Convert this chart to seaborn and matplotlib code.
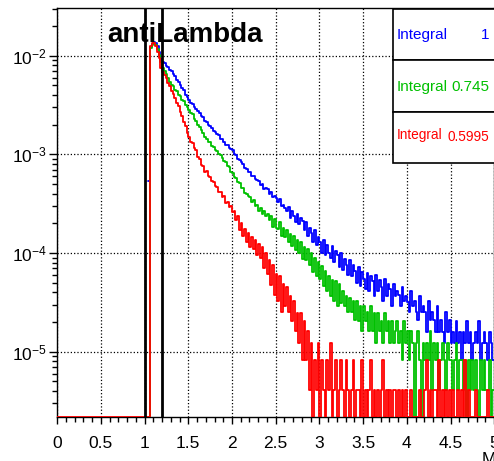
import matplotlib
matplotlib.use("Agg")
import matplotlib.pyplot as plt
import matplotlib.ticker as mticker
from matplotlib.patches import Rectangle
import numpy as np
import pandas as pd
import seaborn as sns

# histogram bins: width 0.02 starting at M = 1.04 (everything below is empty)
BIN_START = 1.04
BIN_WIDTH = 0.02

# bin contents in units of 1e-6
blue = [
    540, 12400, 13300, 13800, 13500, 12600, 11000, 9300, 8600, 8400,
    7900, 7700, 7200, 7000, 6500, 6300, 5700, 5400, 5000, 4700,
    4450, 4000, 3800, 3550, 3350, 3250, 3000, 2900, 2750, 2600,
    2450, 2380, 2200, 2140, 2000, 1920, 1840, 1740, 1700, 1600,
    1560, 1440, 1420, 1350, 1250, 1240, 1150, 1130, 1100, 1010,
    990, 900, 880, 830, 800, 730, 720, 660, 660, 610,
    600, 560, 550, 537, 490, 500, 450, 460, 447, 400,
    420, 370, 380, 363, 330, 350, 300, 310, 288, 270,
    290, 225, 265, 240, 205, 250, 195, 225, 210, 170,
    205, 150, 180, 160, 130, 170, 120, 145, 130, 100,
    135, 95, 120, 100, 90, 118, 82, 105, 95, 72,
    100, 68, 88, 75, 60, 85, 58, 76, 66, 50,
    72, 46, 64, 55, 43, 63, 41, 58, 52, 37,
    60, 41, 53, 45, 33, 55, 37, 49, 43, 29,
    49, 37, 41, 38, 29, 45, 33, 37, 32, 25,
    41, 29, 33, 25, 21, 37, 25, 29, 25, 16,
    33, 21, 25, 21, 16, 29, 16, 21, 16, 12.3,
    25, 16, 21, 12.3, 16, 12.3, 20.5, 12.3, 16, 8.2,
    16, 12.3, 20.5, 12.3, 16, 8.2, 12.3, 16, 12.3, 20.5,
    8.2, 12.3, 16, 12.3, 8.2, 16, 12.3, 8.2,
]

green = [
    0, 12000, 13000, 13400, 13000, 11800, 10200, 8600, 7600, 7000,
    6500, 6000, 5400, 5100, 4900, 4550, 4400, 4050, 3900, 3600,
    3450, 3150, 3050, 2850, 2650, 2550, 2300, 2200, 2000, 1900,
    1750, 1650, 1500, 1450, 1350, 1330, 1230, 1200, 1120, 1080,
    1000, 990, 930, 860, 840, 760, 740, 660, 650, 590,
    580, 520, 510, 460, 455, 410, 400, 380, 370, 330,
    345, 300, 310, 270, 285, 250, 270, 235, 250, 215,
    235, 185, 220, 180, 175, 205, 150, 180, 145, 170,
    130, 155, 118, 150, 108, 135, 100, 130, 88, 115,
    85, 110, 75, 100, 65, 90, 58, 82, 55, 74,
    46, 66, 41, 58, 37, 53, 33, 52, 29, 49,
    31, 41, 29, 37, 25, 35, 25, 33, 21, 33,
    20.5, 29, 16.4, 29, 20.5, 25, 16.4, 29, 16.4, 24.6,
    12.3, 24.6, 16.4, 20.5, 12.3, 24.6, 16.4, 20.5, 12.3, 20.5,
    12.3, 16.4, 20.5, 12.3, 16.4, 8.2, 20.5, 12.3, 16.4, 8.2,
    16.4, 12.3, 0, 12.3, 16.4, 8.2, 0, 12.3, 8.2, 12.3,
    8.2, 16.4, 4.1, 12.3, 8.2, 12.3, 4.1, 8.2, 12.3, 8.2,
    4.1, 12.3, 8.2, 8.2, 4.1, 8.2, 12.3, 4.1, 8.2, 8.2,
    4.1, 8.2, 0, 8.2, 4.1, 8.2, 4.1, 8.2, 4.1, 0,
    8.2, 4.1, 8.2, 4.1, 4.1, 8.2, 0, 4.1,
]

red = [
    0, 12500, 13500, 13500, 12500, 11000, 9500, 7500, 6800, 6400,
    5900, 5300, 4900, 4400, 4100, 3750, 3350, 3100, 2700, 2450,
    2150, 1950, 1650, 1500, 1350, 1300, 1150, 1100, 940, 900,
    780, 760, 660, 680, 600, 590, 540, 520, 480, 470,
    420, 420, 370, 380, 320, 330, 290, 300, 260, 270,
    215, 240, 170, 200, 150, 175, 130, 160, 115, 145,
    110, 135, 95, 125, 90, 115, 70, 100, 62, 85,
    48, 75, 38, 62, 33, 58, 25, 49, 29, 45,
    25, 37, 20.5, 33, 16.4, 24.6, 12.3, 24.6, 8.2, 20.5,
    8.2, 16.4, 4.1, 12.3, 0, 8.2, 4.1, 12.3, 0, 8.2,
    4.1, 0, 8.2, 4.1, 12.3, 0, 4.1, 8.2, 0, 4.1,
    8.2, 4.1, 0, 8.2, 4.1, 0, 4.1, 8.2, 0, 4.1,
    4.1, 0, 8.2, 0, 4.1, 0, 4.1, 8.2, 0, 4.1,
    0, 4.1, 0, 4.1, 8.2, 0, 4.1, 0, 4.1, 0,
    4.1, 4.1, 0, 4.1, 0, 4.1, 0, 4.1, 0, 0,
    4.1, 0, 0, 0, 0, 4.1, 0, 0, 4.1, 8.2,
    0, 4.1, 0, 4.1, 4.1, 0, 8.2, 0, 4.1, 0,
    4.1, 0, 4.1, 0, 4.1, 0, 0, 4.1, 0, 4.1,
    0, 8.2, 0, 4.1, 0, 0, 0, 4.1, 0, 0,
    0, 0, 0, 0, 4.1, 0, 0, 0,
]

series = [blue, green, red]
colors = ["#0000ff", "#00c000", "#ff0000"]
integrals = ["1", "0.745", "0.5995"]
cut_lines = [1.0, 1.2]
x_ticks = [0, 0.5, 1, 1.5, 2, 2.5, 3, 3.5, 4, 4.5, 5]
y_min, y_max = 2.18e-6, 3.05e-2

sns.set_theme(style="ticks")
plt.rcParams["font.family"] = ["Liberation Sans", "DejaVu Sans"]
plt.rcParams["mathtext.fontset"] = "custom"
plt.rcParams["mathtext.rm"] = "Liberation Sans"
plt.rcParams["mathtext.default"] = "regular"
plt.rcParams["axes.edgecolor"] = "black"
plt.rcParams["text.color"] = "black"
plt.rcParams["xtick.color"] = "black"
plt.rcParams["ytick.color"] = "black"

fig = plt.figure(figsize=(4.94, 4.61), dpi=100)
ax = fig.add_axes([57.2 / 494, 44 / 461, 437 / 494, 409 / 461])

for i, (vals, col) in enumerate(zip(series, colors)):
    n = len(vals)
    edges = np.concatenate([[0.0], BIN_START + BIN_WIDTH * np.arange(n + 1)])
    v = np.concatenate([[0.0], np.asarray(vals, dtype=float) * 1e-6])
    # empty bins sit on the frame bottom, as ROOT draws them
    v = np.where(v > 0, v, y_min)
    df = pd.DataFrame({"M": edges, "val": np.append(v, v[-1])})
    if i < len(series) - 1:
        # the empty stretch below the peak is only visible for the top histogram
        df = df.iloc[1:]
    sns.lineplot(data=df, x="M", y="val", ax=ax, color=col, lw=1.3,
                 drawstyle="steps-post", estimator=None, sort=False, zorder=3)

for xc in cut_lines:
    ax.axvline(xc, color="black", lw=2, zorder=4)

ax.set_yscale("log")
ax.set_xlim(0, 5)
ax.set_ylim(y_min, y_max)
ax.set_xlabel("")
ax.set_ylabel("")

ax.set_xticks(x_ticks)
ax.xaxis.set_major_formatter(mticker.FuncFormatter(lambda v, p: "%g" % v))
ax.xaxis.set_minor_locator(mticker.MultipleLocator(0.1))
ax.yaxis.set_major_locator(mticker.LogLocator(base=10, numticks=10))
ax.yaxis.set_minor_locator(mticker.LogLocator(base=10, subs=np.arange(2, 10), numticks=20))
ax.yaxis.set_major_formatter(mticker.FuncFormatter(lambda v, p: r"$10^{%d}$" % round(np.log10(v))))
ax.yaxis.set_minor_formatter(mticker.NullFormatter())

ax.tick_params(axis="x", which="major", length=5, width=1, pad=9, labelsize=12.5)
ax.tick_params(axis="x", which="minor", length=3.6, width=1)
ax.tick_params(axis="y", which="major", length=6, width=1, pad=1.2, labelsize=12.5)
ax.tick_params(axis="y", which="minor", length=3.6, width=1)
for sp in ax.spines.values():
    sp.set_linewidth(1.0)
    sp.set_color("black")

ax.set_axisbelow(True)
ax.grid(True, which="major", color="black", linestyle=":", lw=0.9)

ax.text(0.114, 0.916, "antiLambda", transform=ax.transAxes, fontsize=20,
        fontweight="bold", color="black", ha="left", va="baseline", zorder=3.5)

# stat boxes
box_edges = [0.9968, 0.8729, 0.7465, 0.6218]
label_y = [0.9235, 0.798, 0.679]
value_y = [0.9235, 0.798, 0.674]
sizes = [11, 11, 9.8]
for i, (col, txt) in enumerate(zip(colors, integrals)):
    top, bot = box_edges[i], box_edges[i + 1]
    ax.add_patch(Rectangle((0.768, bot), 0.26, top - bot, transform=ax.transAxes,
                           facecolor="white", edgecolor="black", lw=1.2,
                           zorder=5, clip_on=False))
    ax.text(0.777, label_y[i], "Integral", transform=ax.transAxes, color=col,
            fontsize=sizes[i], ha="left", va="baseline", zorder=6)
    ax.text(0.988, value_y[i], txt, transform=ax.transAxes, color=col,
            fontsize=sizes[i], ha="right", va="baseline", zorder=6)

fig.text(482 / 494, 9 / 461, "M", fontsize=12.5, ha="left", va="top")

fig.savefig("out.png", dpi=100)
